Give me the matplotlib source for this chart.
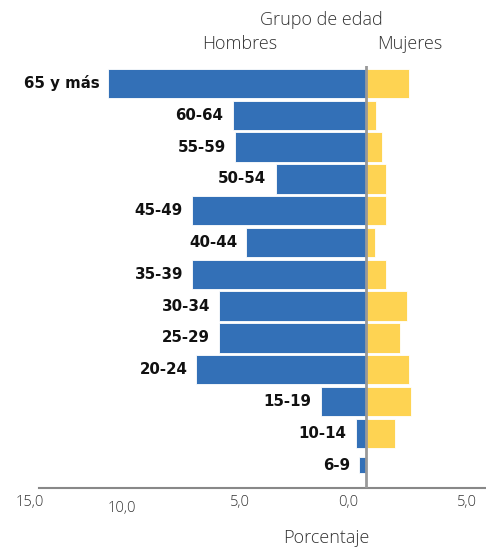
import matplotlib.pyplot as plt

# data (percent of population)
grupos = ["65 y más", "60-64", "55-59", "50-54", "45-49", "40-44", "35-39",
          "30-34", "25-29", "20-24", "15-19", "10-14", "6-9"]
hombres = [11.4, 5.9, 5.8, 4.0, 7.7, 5.3, 7.7, 6.5, 6.5, 7.5, 2.0, 0.45, 0.3]
mujeres = [1.9, 0.45, 0.7, 0.9, 0.9, 0.4, 0.9, 1.8, 1.5, 1.9, 2.0, 1.3, 0.0]
tick_labels = ["15,0", "10,0", "5,0", "0,0", "5,0"]

BLUE = "#3370b7"
YELLOW = "#fed352"
GREY_TXT = "#333333"
FONT = "Open Sans"

W, H = 486, 547
fig = plt.figure(figsize=(W / 100, H / 100), dpi=100)
# axes box in pixels: x 39..486, y 66..488
ax = fig.add_axes([39 / W, 1 - 488 / H, (486 - 39) / W, (488 - 66) / H])

px_per_unit = 22.6
x0_px = 366
ax.set_xlim((39 - x0_px) / px_per_unit, (486 - x0_px) / px_per_unit)
ax.set_ylim(12.72, -0.55)

y = list(range(len(grupos)))
heights = [0.92] * (len(grupos) - 1) + [0.5]

ax.barh(y, [-v for v in hombres], height=heights, color=BLUE, edgecolor="white", linewidth=0.6)
ax.barh(y, mujeres, height=heights, color=YELLOW, edgecolor="white", linewidth=0.6)

# category labels next to the male bars
for yi, g, v in zip(y, grupos, hombres):
    ax.text(-v - 0.4, yi, g, ha="right", va="center", fontsize=10.8,
            fontweight="bold", family="DejaVu Sans", color="#111111")

ax.axvline(0, color="#999999", lw=2, zorder=5)

for s in ["top", "right", "left"]:
    ax.spines[s].set_visible(False)
ax.spines["bottom"].set_color("#888888")
ax.spines["bottom"].set_linewidth(1.5)
ax.set_xticks([])
ax.set_yticks([])

# tick labels (hand placed as in the original)
tick_px = [30, 122, 240, 348, 467]
tick_y = [503, 508, 503, 503, 503]
for px, py, lab in zip(tick_px, tick_y, tick_labels):
    fig.text(px / W, 1 - py / H, lab, ha="center", va="center", fontsize=10.5,
             family=FONT, fontweight="light", color=GREY_TXT)

txt = dict(ha="center", va="center", fontsize=13, family=FONT,
           fontweight="light", color=GREY_TXT)
fig.text(326 / W, 1 - 538 / H, "Porcentaje", **txt)
fig.text(321 / W, 1 - 20 / H, "Grupo de edad", **txt)
fig.text(240 / W, 1 - 44 / H, "Hombres", **txt)
fig.text(410 / W, 1 - 44 / H, "Mujeres", **txt)

fig.savefig("out.png", dpi=100)
